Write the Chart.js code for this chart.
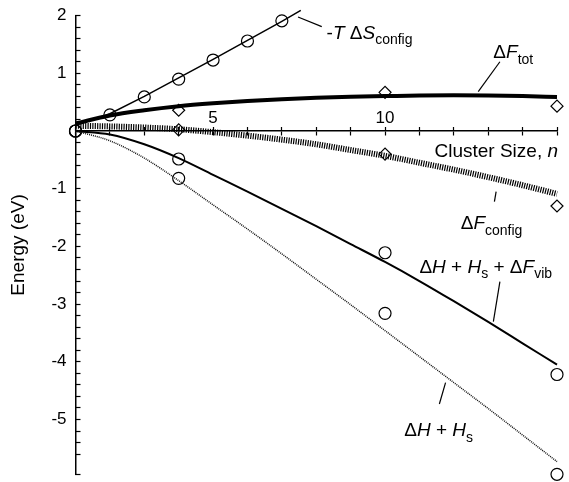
<!DOCTYPE html>
<html>
<head>
<meta charset="utf-8">
<script src="https://cdn.jsdelivr.net/npm/chart.js@4/dist/chart.umd.min.js"></script>
<style>
html,body{margin:0;padding:0;background:#fff;}
#c{display:block;}
</style>
</head>
<body>
<canvas id="c" width="569" height="482"></canvas>
<script>
// ---- data ----
const clusterSizes = [1,2,3,4,5,6,7,8,9,10,11,12,13,14,15];
const xTickLabels = {5:'5', 10:'10'};
const yTickLabels = {'-5':'-5','-4':'-4','-3':'-3','-2':'-2','-1':'-1','1':'1','2':'2'};

// -T ΔS_config fitted line
const tsLineN = [1, 2, 3, 4, 5, 6, 7, 7.55];
const tsLineE = [0.1, 0.3, 0.6, 0.92, 1.24, 1.57, 1.9, 2.09];
// -T ΔS_config computed points (circles)
const tsPtsN = [1, 2, 3, 4, 5, 6, 7];
const tsPtsE = [0, 0.28, 0.59, 0.9, 1.23, 1.56, 1.91];

// ΔF_tot curve
const fTot = [0.13, 0.27, 0.36, 0.43, 0.48, 0.52, 0.55, 0.575, 0.595, 0.605, 0.615, 0.62, 0.615, 0.605, 0.59];
const fTotPtsN = [4, 10, 15];
const fTotPtsE = [0.36, 0.67, 0.43];

// ΔF_config curve
const fConfig = [0.09, 0.08, 0.06, 0.03, -0.02, -0.08, -0.15, -0.23, -0.33, -0.43, -0.55, -0.67, -0.8, -0.94, -1.09];
const fConfigPtsN = [4, 10, 15];
const fConfigPtsE = [0.02, -0.4, -1.3];

// ΔH + H_s + ΔF_vib curve
const hsVib = [0, -0.06, -0.23, -0.47, -0.76, -1.05, -1.35, -1.65, -1.96, -2.27, -2.6, -2.95, -3.31, -3.68, -4.05];
const hsVibPtsN = [1, 4, 10, 15];
const hsVibPtsE = [0, -0.485, -2.11, -4.22];

// ΔH + H_s curve
const hs = [0, -0.17, -0.47, -0.86, -1.28, -1.7, -2.13, -2.57, -3.01, -3.46, -3.91, -4.36, -4.81, -5.27, -5.73];
const hsPtsN = [1, 4, 10, 15];
const hsPtsE = [0, -0.82, -3.16, -5.95];

const toXY = (xs, ys) => xs.map((x, i) => ({x: x, y: ys[i]}));

const FONT = '"Liberation Sans", Arial, Helvetica, sans-serif';
const annotations = [
  {x: 8.3, y: 1.6, align: 'left', size: 19,
   segs: [{t: '-'}, {t: 'T', i: 1}, {t: ' \u0394'}, {t: 'S', i: 1}, {t: 'config', sub: 1}],
   lead: [7.47, 1.976, 8.16, 1.808]},
  {x: 13.15, y: 1.26, align: 'left', size: 19,
   segs: [{t: '\u0394'}, {t: 'F', i: 1}, {t: 'tot', sub: 1}],
   lead: [13.34, 1.2, 12.71, 0.681]},
  {x: 15.03, y: -0.445, align: 'right', size: 19,
   segs: [{t: 'Cluster Size, '}, {t: 'n', i: 1}], lead: null},
  {x: 12.2, y: -1.7, align: 'left', size: 19,
   segs: [{t: '\u0394'}, {t: 'F', i: 1}, {t: 'config', sub: 1}],
   lead: [13.23, -1.052, 13.18, -1.225]},
  {x: 11.0, y: -2.456, align: 'left', size: 19,
   segs: [{t: '\u0394'}, {t: 'H', i: 1}, {t: ' + '}, {t: 'H', i: 1}, {t: 's', sub: 1}, {t: ' + \u0394'}, {t: 'F', i: 1}, {t: 'vib', sub: 1}],
   lead: [13.34, -2.612, 13.15, -3.305]},
  {x: 10.56, y: -5.286, align: 'left', size: 19,
   segs: [{t: '\u0394'}, {t: 'H', i: 1}, {t: ' + '}, {t: 'H', i: 1}, {t: 's', sub: 1}],
   lead: [11.76, -4.362, 11.58, -4.731]}
];

const annotationPlugin = {
  id: 'annot',
  afterDatasetsDraw(chart) {
    const ctx = chart.ctx, xs = chart.scales.x, ys = chart.scales.y;
    ctx.save();
    ctx.fillStyle = '#000';
    ctx.strokeStyle = '#000';
    ctx.lineWidth = 1.2;
    ctx.textBaseline = 'alphabetic';
    for (const a of annotations) {
      if (a.lead) {
        ctx.beginPath();
        ctx.moveTo(xs.getPixelForValue(a.lead[0]), ys.getPixelForValue(a.lead[1]));
        ctx.lineTo(xs.getPixelForValue(a.lead[2]), ys.getPixelForValue(a.lead[3]));
        ctx.stroke();
      }
      const fontFor = s => (s.i ? 'italic ' : '') + (s.sub ? Math.round(a.size * 0.72) : a.size) + 'px ' + FONT;
      let total = 0;
      for (const s of a.segs) { ctx.font = fontFor(s); total += ctx.measureText(s.t).width; }
      let px = xs.getPixelForValue(a.x);
      const py = ys.getPixelForValue(a.y);
      if (a.align === 'right') px -= total;
      ctx.textAlign = 'left';
      for (const s of a.segs) {
        ctx.font = fontFor(s);
        ctx.fillText(s.t, px, py + (s.sub ? a.size * 0.3 : 0));
        px += ctx.measureText(s.t).width;
      }
    }
    ctx.restore();
  }
};

const lineBase = {showLine: true, pointRadius: 0, fill: false, cubicInterpolationMode: 'monotone', borderColor: '#000', clip: false};
const ptBase = {showLine: false, pointStyle: 'circle', pointRadius: 6, pointBorderWidth: 1.2,
  pointBorderColor: '#000', pointBackgroundColor: 'rgba(255,255,255,0)', clip: false};

new Chart(document.getElementById('c'), {
  type: 'scatter',
  data: {
    datasets: [
      Object.assign({}, lineBase, {label: 'dF_config', data: toXY(clusterSizes, fConfig), borderWidth: 6, borderColor: '#000', borderDash: [1.2, 1.2]}),
      Object.assign({}, lineBase, {label: 'dH+Hs', data: toXY(clusterSizes, hs), borderWidth: 1.5, borderColor: '#111', borderDash: [1, 1]}),
      Object.assign({}, lineBase, {label: 'dH+Hs+dFvib', data: toXY(clusterSizes, hsVib), borderWidth: 2}),
      Object.assign({}, lineBase, {label: 'dF_tot', data: toXY(clusterSizes, fTot), borderWidth: 4}),
      Object.assign({}, lineBase, {label: '-TdS line', data: toXY(tsLineN, tsLineE), borderWidth: 1.5, cubicInterpolationMode: 'default', tension: 0}),
      Object.assign({}, ptBase, {label: '-TdS pts', data: toXY(tsPtsN, tsPtsE)}),
      Object.assign({}, ptBase, {label: 'dHs vib pts', data: toXY(hsVibPtsN, hsVibPtsE)}),
      Object.assign({}, ptBase, {label: 'dHs pts', data: toXY(hsPtsN, hsPtsE)}),
      Object.assign({}, ptBase, {label: 'Ftot pts', data: toXY(fTotPtsN, fTotPtsE), pointStyle: 'rectRot', pointRadius: 6}),
      Object.assign({}, ptBase, {label: 'Fconfig pts', data: toXY(fConfigPtsN, fConfigPtsE), pointStyle: 'rectRot', pointRadius: 6})
    ]
  },
  options: {
    responsive: false,
    animation: false,
    devicePixelRatio: 1,
    layout: {padding: {top: 15.6, right: 12, bottom: 7.7, left: 0}},
    plugins: {legend: {display: false}, tooltip: {enabled: false}},
    scales: {
      x: {
        type: 'linear', min: 1, max: 15, position: {y: 0},
        afterFit: s => { s.height = 0; s.paddingLeft = 0; s.paddingRight = 0; },
        border: {display: true, color: '#000', width: 1.5},
        grid: {drawOnChartArea: false, color: '#000', tickLength: 4, tickWidth: 1.2},
        ticks: {stepSize: 1, autoSkip: false, maxRotation: 0, color: '#000', padding: -27,
          font: {size: 17, family: FONT},
          callback: v => xTickLabels[v] || ''}
      },
      x2: {
        type: 'linear', min: 1, max: 15, position: {y: 0},
        afterFit: s => { s.height = 0; s.paddingLeft = 0; s.paddingRight = 0; },
        border: {display: false},
        grid: {drawOnChartArea: false, color: '#000', tickLength: -4, tickWidth: 1.2},
        ticks: {stepSize: 1, autoSkip: false, maxRotation: 0, callback: () => ''}
      },
      y: {
        type: 'linear', min: -5.95, max: 2, position: 'left',
        afterFit: s => { s.width = 75.5; s.paddingTop = 0; s.paddingBottom = 0; },
        border: {display: true, color: '#000', width: 1.5},
        grid: {drawOnChartArea: false, color: '#000', tickLength: -5, tickWidth: 1.2},
        ticks: {stepSize: 0.2, autoSkip: false, color: '#000', padding: 14,
          font: {size: 17, family: FONT},
          callback: v => { const r = Math.round(v); return Math.abs(v - r) < 1e-6 ? (yTickLabels[String(r)] || '') : ''; }},
        title: {display: true, text: 'Energy (eV)', color: '#000', font: {size: 19, family: FONT}, padding: {top: 7, bottom: 0}}
      }
    }
  },
  plugins: [annotationPlugin]
});
</script>
</body>
</html>
